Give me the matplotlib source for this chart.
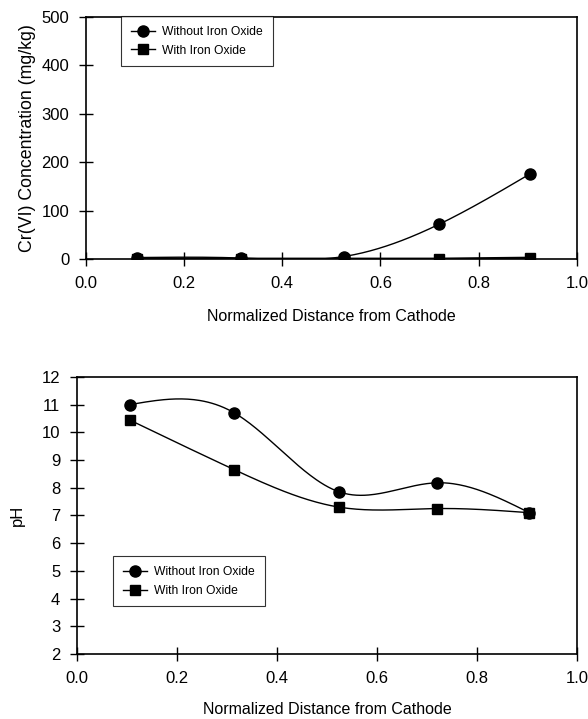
import numpy as np
import matplotlib
matplotlib.use("Agg")
import matplotlib.pyplot as plt

plt.rcParams['font.family'] = ['Liberation Sans', 'DejaVu Sans']

distance = [0.105, 0.315, 0.525, 0.72, 0.905]
cr_without = [3, 2, 5, 72, 176]
cr_with = [0, 0, 0, 0, 2]
ph_without = [11.0, 10.7, 7.85, 8.18, 7.1]
ph_with = [10.45, 8.65, 7.3, 7.25, 7.1]
lbl_without = "Without Iron Oxide"
lbl_with = "With Iron Oxide"
xlabel = "Normalized Distance from Cathode"


def natural_spline(x, y, n=200):
    x = np.asarray(x, float); y = np.asarray(y, float)
    k = len(x)
    h = np.diff(x)
    A = np.zeros((k, k)); b = np.zeros(k)
    A[0, 0] = 1; A[-1, -1] = 1
    for i in range(1, k - 1):
        A[i, i - 1] = h[i - 1]
        A[i, i] = 2 * (h[i - 1] + h[i])
        A[i, i + 1] = h[i]
        b[i] = 3 * ((y[i + 1] - y[i]) / h[i] - (y[i] - y[i - 1]) / h[i - 1])
    c = np.linalg.solve(A, b)
    xs = np.linspace(x[0], x[-1], n)
    ys = np.empty_like(xs)
    for j, xv in enumerate(xs):
        i = min(np.searchsorted(x, xv, side='right') - 1, k - 2)
        dx = xv - x[i]
        bi = (y[i + 1] - y[i]) / h[i] - h[i] * (2 * c[i] + c[i + 1]) / 3
        di = (c[i + 1] - c[i]) / (3 * h[i])
        ys[j] = y[i] + bi * dx + c[i] * dx ** 2 + di * dx ** 3
    return xs, ys


fig = plt.figure(figsize=(5.88, 7.19), dpi=100)
ax1 = fig.add_axes([0.146, 0.6398, 0.835, 0.3366])
ax2 = fig.add_axes([0.131, 0.0904, 0.850, 0.3853])

# top panel
xs, ys = natural_spline(distance, cr_without)
ax1.plot(xs, np.maximum(ys, 0), color='black', lw=1.0)
ax1.plot(distance, cr_with, color='black', lw=2.0)
ax1.plot(distance, cr_without, 'o', color='black', ms=8)
ax1.plot(distance, cr_with, 's', color='black', ms=7)
ax1.set_xlim(0, 1)
ax1.set_ylim(0, 500)
ax1.set_xticks(np.arange(0, 1.01, 0.2))
ax1.set_yticks(np.arange(0, 501, 100))
ax1.set_xticklabels([f"{v:.1f}" for v in np.arange(0, 1.01, 0.2)])
ax1.set_ylabel("Cr(VI) Concentration (mg/kg)", fontsize=12.8, labelpad=4)
ax1.set_xlabel(xlabel, fontsize=11.5, labelpad=13)
h1 = ax1.plot([], [], '-o', color='black', ms=8, lw=1.0, label=lbl_without)[0]
h2 = ax1.plot([], [], '-s', color='black', ms=7, lw=1.0, label=lbl_with)[0]
leg1 = ax1.legend(handles=[h1, h2], loc='upper left', bbox_to_anchor=(0.072, 1.003),
                  fontsize=8.7, frameon=True, fancybox=False, edgecolor='black',
                  handlelength=2.0, handletextpad=0.6, borderpad=0.8, labelspacing=0.55,
                  borderaxespad=0)
leg1.get_frame().set_linewidth(0.8)

# bottom panel
xs, ys = natural_spline(distance, ph_without)
ax2.plot(xs, ys, color='black', lw=1.0)
xs, ys = natural_spline(distance, ph_with)
ax2.plot(xs, ys, color='black', lw=1.0)
ax2.plot(distance, ph_without, 'o', color='black', ms=8)
ax2.plot(distance, ph_with, 's', color='black', ms=7)
ax2.set_xlim(0, 1)
ax2.set_ylim(2, 12)
ax2.set_xticks(np.arange(0, 1.01, 0.2))
ax2.set_yticks(np.arange(2, 13, 1))
ax2.set_xticklabels([f"{v:.1f}" for v in np.arange(0, 1.01, 0.2)])
ax2.set_ylabel("pH", fontsize=12, labelpad=12)
ax2.set_xlabel(xlabel, fontsize=11.5, labelpad=12)
h3 = ax2.plot([], [], '-o', color='black', ms=8, lw=1.0, label=lbl_without)[0]
h4 = ax2.plot([], [], '-s', color='black', ms=7, lw=1.0, label=lbl_with)[0]
leg2 = ax2.legend(handles=[h3, h4], loc='upper left', bbox_to_anchor=(0.072, 0.352),
                  fontsize=8.7, frameon=True, fancybox=False, edgecolor='black',
                  handlelength=2.0, handletextpad=0.6, borderpad=0.8, labelspacing=0.55,
                  borderaxespad=0)
leg2.get_frame().set_linewidth(0.8)

for ax in (ax1, ax2):
    for s in ax.spines.values():
        s.set_linewidth(1.2)
    ax.tick_params(direction='inout', length=10, width=1.0, labelsize=12, pad=7)

fig.savefig("out.png", dpi=100)
